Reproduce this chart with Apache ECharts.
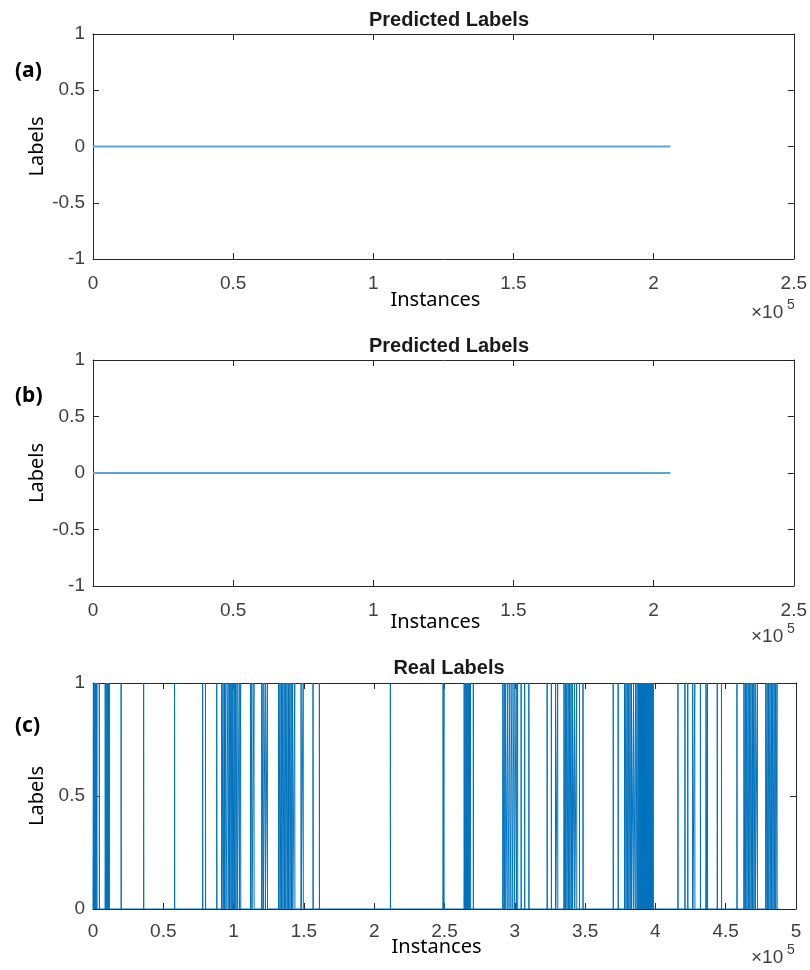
<!DOCTYPE html>
<html>
<head>
<meta charset="utf-8">
<script src="https://cdn.jsdelivr.net/npm/echarts@6/dist/echarts.min.js"></script>
<style>
  html, body { margin: 0; padding: 0; background: #fff; }
  #chart { width: 810px; height: 970px; }
</style>
</head>
<body>
<div id="chart"></div>
<script>
// Predicted labels: constant class 0 over all test instances (start, end)
const predictedAX = [1, 206000];
const predictedAY = [0, 0];
const predictedBX = [1, 206000];
const predictedBY = [0, 0];

// Real labels: runs where the label is 1, as [start, end] in thousands of instances
const realRuns = [
  [0.3, 0.4], [0.9, 1.0], [1.6, 1.7], [2.2, 2.3], [2.8, 2.9], [4.5, 4.6],
  [8.7, 8.8], [9.4, 9.5], [10.2, 10.3], [11.0, 11.1], [11.6, 11.7],
  [20.0, 20.1], [36.0, 36.1], [58.0, 58.1],
  [78.0, 78.1], [80.0, 80.1], [88.0, 88.1],
  [91.5, 91.6], [92.5, 92.6], [93.5, 93.6], [94.5, 94.6], [96.0, 96.1], [97.0, 97.1],
  [98.0, 98.1], [98.8, 98.9], [99.5, 99.6], [100.5, 100.6], [101.5, 101.6], [102.5, 102.6],
  [104.0, 104.1], [105.0, 105.1],
  [112.0, 112.1], [113.0, 113.1], [114.5, 114.6],
  [120.0, 120.1], [121.0, 121.1], [122.5, 122.6], [124.0, 124.1],
  [132.0, 132.1], [133.0, 133.1], [134.0, 134.1], [135.0, 135.1], [136.0, 136.1],
  [137.0, 137.1], [138.0, 138.1], [139.0, 139.1], [140.0, 140.1], [141.0, 141.1],
  [142.0, 142.1], [143.5, 143.6], [148.0, 148.1], [149.5, 149.6],
  [156.5, 156.6], [161.0, 161.1],
  [211.5, 211.6],
  [249.0, 249.1], [249.6, 249.7],
  [264.0, 264.1], [264.8, 264.9], [265.5, 265.6], [266.2, 266.3], [267.0, 267.1],
  [267.8, 267.9], [268.5, 268.6], [270.5, 270.6],
  [291.5, 291.6], [292.5, 292.6], [293.5, 293.6], [295.0, 295.1], [296.5, 296.6],
  [298.0, 298.1], [299.5, 299.6], [301.0, 301.1], [302.0, 302.1], [304.5, 304.6],
  [307.0, 307.1], [310.0, 310.1],
  [323.0, 323.1], [326.0, 326.1], [329.0, 329.1], [330.5, 330.6],
  [335.0, 335.1], [336.0, 336.1], [337.0, 337.1], [338.0, 338.1], [339.0, 339.1],
  [340.0, 340.1], [341.0, 341.1], [342.5, 342.6], [344.0, 344.1],
  [346.0, 346.1], [348.5, 348.6],
  [370.0, 370.1], [373.5, 373.6],
  [378.0, 378.1], [379.0, 379.1], [380.0, 380.1], [381.0, 381.1], [382.0, 382.1],
  [383.0, 383.1], [384.5, 384.6], [386.0, 386.1], [387.0, 387.1], [388.0, 388.1],
  [388.7, 388.8], [389.4, 389.5], [390.1, 390.2], [390.8, 390.9], [391.5, 391.6],
  [392.2, 392.3], [392.9, 393.0], [393.6, 393.7], [394.3, 394.4], [395.0, 395.1],
  [395.7, 395.8], [396.4, 396.5], [397.1, 397.2], [397.8, 397.9], [398.5, 398.6],
  [416.0, 416.1],
  [421.0, 421.1], [423.0, 423.1], [426.5, 426.6], [428.0, 428.1], [432.0, 432.1],
  [436.0, 436.1], [437.0, 437.1],
  [444.0, 444.1], [447.0, 447.1],
  [458.0, 458.1],
  [463.0, 463.1], [464.0, 464.1], [465.0, 465.1], [466.0, 466.1], [467.0, 467.1],
  [468.0, 468.1], [469.0, 469.1], [470.0, 470.1], [471.0, 471.1], [472.5, 472.6],
  [478.5, 478.6], [479.5, 479.6], [480.5, 480.6], [481.5, 481.6], [482.5, 482.6],
  [483.5, 483.6], [484.5, 484.6], [485.5, 485.6], [486.5, 486.6]
];
const realLastInstance = 488000;

// Axis ranges and tick labels
const xTicksTop = [0, 0.5, 1, 1.5, 2, 2.5];          // x 10^5
const xTicksReal = [0, 0.5, 1, 1.5, 2, 2.5, 3, 3.5, 4, 4.5, 5];
const yTicksPred = [-1, -0.5, 0, 0.5, 1];
const yTicksReal = [0, 0.5, 1];

const panelTitles = ['Predicted Labels', 'Predicted Labels', 'Real Labels'];
const panelTags = ['(a)', '(b)', '(c)'];

// Build the step trace for the real labels
const realData = [[0, 0]];
realRuns.forEach(([s, e]) => {
  realData.push([s * 1000, 0], [s * 1000, 1], [e * 1000, 1], [e * 1000, 0]);
});
realData.push([realLastInstance, 0]);

const AXIS_COLOR = '#262626';
const TICK_FONT = 'Liberation Sans, Arial, sans-serif';
const NAME_FONT = 'Noto Sans, sans-serif';

const grids = [
  { left: 93, right: 14, top: 34, height: 225 },
  { left: 93, right: 14, top: 360, height: 226 },
  { left: 93, right: 14, top: 683, height: 226 }
];
const xNameGaps = [31, 26, 28];
const xLabelMargins = [15, 15, 13];

function fmt(v) {
  return String(+(v).toFixed(2));
}

const xAxes = [];
const yAxes = [];
const xMaxes = [xTicksTop[xTicksTop.length - 1], xTicksTop[xTicksTop.length - 1], xTicksReal[xTicksReal.length - 1]];
const yRanges = [yTicksPred, yTicksPred, yTicksReal];

grids.forEach((g, i) => {
  const xmax = xMaxes[i] * 1e5;
  const yt = yRanges[i];
  const common = {
    gridIndex: i,
    type: 'value',
    splitLine: { show: false },
    axisLine: { show: true, onZero: false, lineStyle: { color: AXIS_COLOR, width: 1 } },
    axisTick: { show: true, inside: true, length: 6, lineStyle: { color: AXIS_COLOR } }
  };
  // bottom axis with labels
  xAxes.push(Object.assign({}, common, {
    position: 'bottom', min: 0, max: xmax, interval: 50000,
    name: 'Instances', nameLocation: 'middle', nameGap: xNameGaps[i], nameMoveOverlap: false,
    nameTextStyle: { fontFamily: NAME_FONT, fontSize: 20, color: '#000', padding: [0, 16, 0, 0] },
    axisLabel: { show: true, margin: xLabelMargins[i], fontFamily: TICK_FONT, fontSize: 19, color: '#404040',
      formatter: v => fmt(v / 1e5) }
  }));
  // top mirror axis
  xAxes.push(Object.assign({}, common, {
    position: 'top', min: 0, max: xmax, interval: 50000, axisLabel: { show: false }
  }));
  // left axis with labels
  yAxes.push(Object.assign({}, common, {
    position: 'left', min: yt[0], max: yt[yt.length - 1], interval: 0.5,
    name: 'Labels', nameLocation: 'middle', nameGap: 46, nameMoveOverlap: false,
    nameTextStyle: { fontFamily: NAME_FONT, fontSize: 20, color: '#000' },
    axisLabel: { show: true, margin: 8, fontFamily: TICK_FONT, fontSize: 19, color: '#404040',
      formatter: v => fmt(v) }
  }));
  // right mirror axis
  yAxes.push(Object.assign({}, common, {
    position: 'right', min: yt[0], max: yt[yt.length - 1], interval: 0.5, axisLabel: { show: false }
  }));
});

const titleTops = [5, 331, 653];
const tagTops = [61, 386, 716];
const expTops = [303, 627, 948];

const graphics = [];
grids.forEach((g, i) => {
  graphics.push({
    type: 'text', left: 15, top: tagTops[i],
    style: { text: panelTags[i], font: 'bold 21px ' + NAME_FONT, fill: '#000' }
  });
  graphics.push({
    type: 'text', left: 751, top: expTops[i],
    style: { text: '×10', font: '19px ' + TICK_FONT, fill: '#404040' }
  });
  graphics.push({
    type: 'text', left: 787, top: expTops[i] - 5,
    style: { text: '5', font: '14px ' + TICK_FONT, fill: '#404040' }
  });
});

const chart = echarts.init(document.getElementById('chart'), null, { renderer: 'canvas' });
chart.setOption({
  animation: false,
  backgroundColor: '#fff',
  title: panelTitles.map((t, i) => ({
    text: t, left: 444, top: titleTops[i], textAlign: 'center',
    textStyle: { fontFamily: TICK_FONT, fontWeight: 'bold', fontSize: 20, color: '#1a1a1a' }
  })),
  grid: grids,
  xAxis: xAxes,
  yAxis: yAxes,
  graphic: graphics,
  series: [
    {
      type: 'line', xAxisIndex: 0, yAxisIndex: 0,
      data: predictedAX.map((x, k) => [x, predictedAY[k]]),
      showSymbol: false, lineStyle: { color: '#5aa5dc', width: 2 }, z: 1
    },
    {
      type: 'line', xAxisIndex: 2, yAxisIndex: 2,
      data: predictedBX.map((x, k) => [x, predictedBY[k]]),
      showSymbol: false, lineStyle: { color: '#5aa5dc', width: 2 }, z: 1
    },
    {
      type: 'line', xAxisIndex: 4, yAxisIndex: 4,
      data: realData, sampling: null,
      showSymbol: false, lineStyle: { color: '#0072BD', width: 1 }, z: 1
    }
  ]
});
</script>
</body>
</html>
